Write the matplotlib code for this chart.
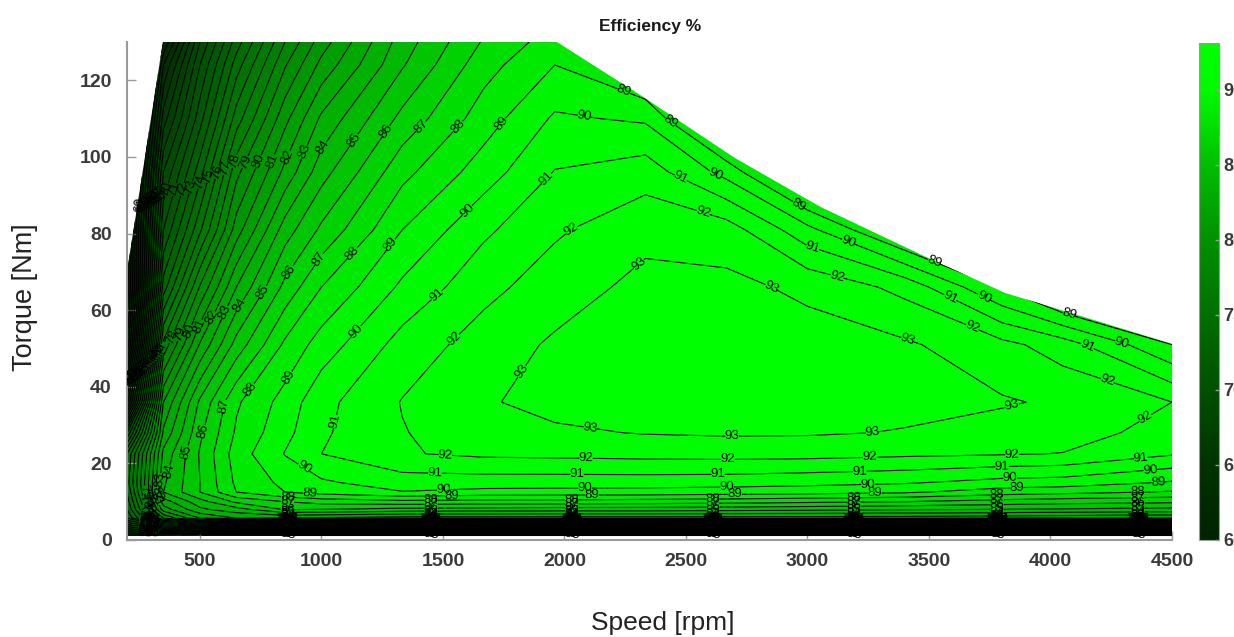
"""Efficiency map of the motor: speed vs torque, contours every 1 %."""

import matplotlib

matplotlib.use("Agg")
import matplotlib.pyplot as plt
import numpy as np
from matplotlib.cm import ScalarMappable
from matplotlib.colors import LinearSegmentedColormap, Normalize
from matplotlib.patches import Polygon

plt.rcParams["font.family"] = ["Liberation Sans"]

SPEED = [200, 350, 500, 650, 850, 1000, 1333, 1667, 1960, 2333, 2667, 3000, 3400, 3800, 4050, 4500]
TORQUE = [1.3, 5.7, 8, 10, 12.5, 15, 22.5, 28, 36, 51, 66, 81, 96, 110, 124, 130]

# efficiency rows, bottom to top
EFF_T01 = [64, 64, 62, 15, 2, 2, 2, 2, 2, 2, 2, 2, 2, 2, 2, 2]
EFF_T06 = [72, 79, 82, 83, 83, 82.8, 82.5, 82.5, 82.5, 82.5, 82.5, 82.5, 82.5, 82.3, 82.2, 82]
EFF_T08 = [73, 81.5, 83.8, 84.6, 86.1, 86, 85.7, 85.6, 85.5, 85.5, 85.4, 85.3, 85.1, 85, 84.9, 84.7]
EFF_T10 = [73.5, 82.5, 84.6, 86.2, 87, 87.4, 87.7, 87.6, 87.6, 87.5, 87.4, 87.2, 87, 86.6, 86.4, 86.2]
EFF_T12 = [74, 84, 86, 88, 89, 89.4, 89.95, 89.7, 89.65, 89.6, 89.5, 89.4, 89.15, 88.5, 88.3, 87.9]
EFF_T15 = [74.5, 83.85, 86, 88.2, 89.25, 89.85, 90.5, 90.5, 90.5, 90.5, 90.45, 90.3, 90.1, 89.65, 89.55, 88.9]
EFF_T22 = [74, 83.3, 86.1, 88.5, 90.05, 91, 91.92, 92.2, 92.25, 92.33, 92.38, 92.35, 92.2, 92.08, 91.97, 91.1]
EFF_T28 = [70, 82.2, 85.8, 88.15, 89.7, 90.85, 91.95, 92.55, 92.85, 93.05, 93.12, 93.1, 92.95, 92.6, 92.45, 91.6]
EFF_T36 = [62.5, 81, 85.2, 87.85, 89.4, 90.7, 92.05, 92.9, 93.3, 93.35, 93.35, 93.3, 93.25, 93.1, 92.85, 92]
EFF_T51 = [56, 77.3, 82.1, 85.4, 88.2, 89.45, 91.4, 92.45, 93.15, 93.4, 93.45, 93.4, 93.15, 92.3, 91.5, 89]
EFF_T66 = [54, 73.5, 79.1, 83, 86.3, 88, 90.2, 91.7, 92.5, 93.3, 93.25, 92.8, 91.7, 88.9, 87, 85]
EFF_T81 = [55, 71, 75.8, 80.5, 84.5, 86.2, 89, 90.8, 91.85, 92.7, 92.5, 90.3, 87.5, 85, 83, 80]
EFF_T96 = [54, 69, 73.6, 78.7, 82.3, 84.6, 87.7, 89.5, 91.05, 91.55, 89.65, 86.5, 84, 82, 80, 78]
EFF_T110 = [52, 66.5, 71.6, 76.5, 80.7, 83.2, 86.3, 88.5, 90.15, 89.85, 86.5, 84, 82, 80, 78, 76]
EFF_T124 = [50, 64, 70, 74.5, 78.9, 81.3, 84.9, 87.6, 89, 87.5, 84, 82, 80, 78, 76, 74]
EFF_T130 = [49, 62, 69, 73.5, 78, 80.5, 84.5, 87.1, 88.5, 86.5, 82, 80, 78, 76, 74, 72]

# torque limit of the drive
LIMIT_SPEED = [200, 348, 1969, 2311, 2702, 3052, 3484, 3813, 4500]
LIMIT_TORQUE = [70, 130, 130, 116.2, 99.7, 87, 74, 64.5, 51.2]

CONTOUR_LEVELS = list(range(1, 95))
XTICKS = [500, 1000, 1500, 2000, 2500, 3000, 3500, 4000, 4500]
YTICKS = [0, 20, 40, 60, 80, 100, 120]
CBAR_TICKS = [60, 65, 70, 75, 80, 85, 90]

# colorbar anchors: efficiency value and green channel
CMAP_VALUES = [60, 65, 70, 75, 80, 85, 88, 90, 93.1]
CMAP_GREEN = [35, 50, 80, 112, 145, 190, 228, 250, 255]

# where the contour labels sit on each level (speed, torque)
LABEL_SPOTS = {
    93: [(1830, 43.9), (2299, 72.6), (2867, 67.9), (3422, 54), (3846, 34.2), (2105, 28.7), (2690, 26.1), (3270, 27.2)],
    92: [(1533, 53.3), (2023, 81.5), (2570, 85.4), (3134, 71.8), (3690, 57.4), (4237, 42.3), (4401, 30.8),
         (1509, 21.7), (2089, 20.1), (2673, 20.1), (3257, 20.6), (3842, 21.7)],
    91: [(1932, 94), (2488, 95.8), (3027, 77.5), (3587, 63.2), (4163, 52.2), (1451, 65.5), (1035, 31.3),
         (1467, 17.5), (2052, 16.4), (2632, 16.7), (3216, 17.5), (3801, 19), (4373, 20.6)],
    90: [(2081, 110), (2624, 95.8), (3163, 77), (3722, 62.7), (4294, 51.7), (1138, 54.8), (1587, 86.9), (928, 18.8),
         (1504, 12.3), (2085, 13.3), (2669, 13.8), (3249, 14.9), (3834, 16.2), (4410, 18)],
    89: [(1735, 109), (2245, 117.5), (2443, 109.7), (2957, 86.7), (3504, 70), (4072, 58), (1278, 77.5), (862, 42.6),
         (953, 12.5), (1537, 11.2), (2113, 11.2), (2702, 11.7), (3278, 12.3), (3862, 13.3), (4443, 15.4)],
    88: [(1546, 109), (1113, 75.7), (714, 39)],
    87: [(1393, 109), (974, 74), (615, 34.7)],
    86: [(1258, 107), (867, 70), (533, 28)],
    85: [(1122, 105), (755, 65), (444, 23)],
    84: [(994, 103), (644, 62), (370, 18)],
    83: [(928, 101.5), (600, 59.5), (344, 15.7)],
    82: [(862, 100), (554, 58), (320, 12)],
    81: [(797, 99), (508, 55.6), (300, 10)],
    80: [(735, 99), (467, 54.3)],
    79: [(677, 99), (426, 53.5)],
    78: [(636, 99), (385, 53)],
    77: [(603, 97), (348, 50)],
    76: [(570, 96), (335, 49.5)],
    75: [(533, 95), (322, 49)],
    74: [(500, 93.5), (310, 48.5)],
    73: [(467, 92), (298, 48)],
    72: [(430, 91.5), (288, 47.5)],
    71: [(397, 91.5), (278, 47)],
    70: [(365, 91.5), (270, 46.5)],
    69: [(360, 91), (262, 46)],
    68: [(352, 90.5), (255, 45.5)],
    67: [(340, 90), (248, 45)],
    66: [(328, 89.5), (242, 44.5)],
    65: [(315, 89), (236, 44)],
    64: [(303, 88.7), (232, 43.5)],
    63: [(290, 88.3), (228, 43)],
    62: [(278, 88), (224, 42.7)],
    61: [(265, 87.7), (222, 42.4)],
    60: [(253, 87.5), (220, 42)],
}

# the stacks of labels in the steep band at low torque
BAND_SPEEDS = [860, 1450, 2030, 2610, 3190, 3780, 4360]
BAND_LEVELS = list(range(88, 59, -1)) + list(range(57, 2, -3))
BAND_OFFSETS = [-14, 0, 14]
LEFT_STACK_SPEEDS = [275, 300]
LEFT_STACK_LEVELS = list(range(79, 64, -1))


def main() -> None:
    speed = np.array(SPEED, dtype=float)
    torque = np.array(TORQUE, dtype=float)
    eff = np.array([EFF_T01, EFF_T06, EFF_T08, EFF_T10, EFF_T12, EFF_T15, EFF_T22, EFF_T28, EFF_T36,
                    EFF_T51, EFF_T66, EFF_T81, EFF_T96, EFF_T110, EFF_T124, EFF_T130])

    greens = [(0, g / 255, 0) for g in CMAP_GREEN]
    stops = [(v - CMAP_VALUES[0]) / (CMAP_VALUES[-1] - CMAP_VALUES[0]) for v in CMAP_VALUES]
    cmap = LinearSegmentedColormap.from_list("eff_green", list(zip(stops, greens)), N=512)
    norm = Normalize(CMAP_VALUES[0], CMAP_VALUES[-1])

    fig = plt.figure(figsize=(12.34, 6.37), dpi=100)
    ax = fig.add_axes([127 / 1234, 1 - 540 / 637, (1172 - 127) / 1234, (540 - 42) / 637])

    filled = ax.contourf(speed, torque, eff, levels=CONTOUR_LEVELS, cmap=cmap, norm=norm)
    lines = ax.contour(speed, torque, eff, levels=CONTOUR_LEVELS, colors="black", linewidths=0.8)

    ax.set_xlim(200, 4500)
    ax.set_ylim(0, 130)

    # labels, one level at a time so each spot lands on its own contour
    mid_column = eff[:5, 9]
    band_spots = {}
    for i, level in enumerate(BAND_LEVELS):
        t = np.interp(level, mid_column, torque[:5])
        offset = BAND_OFFSETS[i % 3] if level < 82 else 0
        band_spots[level] = [(s + offset, t) for s in BAND_SPEEDS]
    left_column = eff[:6, :2].mean(axis=1)
    for level in LEFT_STACK_LEVELS:
        t = np.interp(level, left_column, torque[:6])
        band_spots[level].extend((s, t) for s in LEFT_STACK_SPEEDS)

    # clabel with a level subset trips over its own index, so prepare it for
    # every level and narrow labelIndiceList before each add_label_near
    lines.clabel(CONTOUR_LEVELS, manual=[], fmt="%d", fontsize=9.5, colors="black")
    for level in sorted(set(LABEL_SPOTS) | set(band_spots)):
        lines.labelIndiceList = [CONTOUR_LEVELS.index(level)]
        for x, y in LABEL_SPOTS.get(level, []) + band_spots.get(level, []):
            lines.add_label_near(x, y, inline=True, inline_spacing=3)

    outline = list(zip(LIMIT_SPEED, LIMIT_TORQUE)) + [(4500, 0), (200, 0)]
    limit_patch = Polygon(outline, closed=True, transform=ax.transData)
    filled.set_clip_path(limit_patch)
    lines.set_clip_path(limit_patch)

    tick_grey = "#9a9a9a"
    label_grey = "#3a3a3a"
    bold = {"weight": "bold"}

    for side in ("top", "right"):
        ax.spines[side].set_visible(False)
    for side in ("left", "bottom"):
        ax.spines[side].set_color(tick_grey)
        ax.spines[side].set_linewidth(1.5)
    ax.set_xticks(XTICKS)
    ax.set_yticks(YTICKS)
    ax.tick_params(direction="in", length=6.5, width=1, color=tick_grey)
    ax.tick_params(axis="x", pad=9)
    ax.tick_params(axis="y", pad=11)
    for tick in ax.get_xticklabels() + ax.get_yticklabels():
        tick.set(color=label_grey, fontsize=14, **bold)

    fig.text(650 / 1234, 1 - 27 / 637, "Efficiency %", ha="center", va="center",
             color="#1a1a1a", fontsize=12.5, **bold)
    fig.text(663 / 1234, 1 - 623 / 637, "Speed [rpm]", ha="center", va="center", fontsize=19, color="#222222")
    fig.text(25 / 1234, 1 - 297 / 637, "Torque [Nm]", ha="center", va="center", rotation=90,
             fontsize=19.5, color="#222222")

    cax = fig.add_axes([1199 / 1234, 1 - 540 / 637, 20 / 1234, (540 - 43) / 637])
    cbar = fig.colorbar(ScalarMappable(norm=norm, cmap=cmap), cax=cax, ticks=CBAR_TICKS)
    cbar.outline.set_edgecolor(tick_grey)
    cbar.ax.tick_params(direction="in", length=3, width=1, color=tick_grey, pad=3)
    for tick in cbar.ax.get_yticklabels():
        tick.set(color=label_grey, fontsize=13, **bold)

    fig.savefig("out.png", dpi=100)


if __name__ == "__main__":
    main()
